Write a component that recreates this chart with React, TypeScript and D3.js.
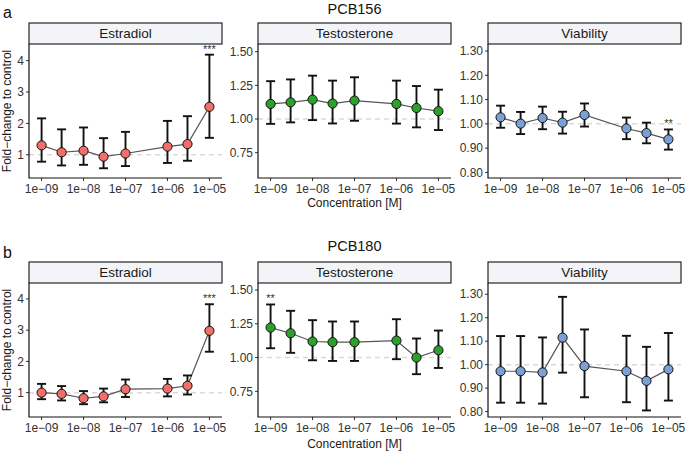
import React from "react";
import { scaleLinear, scaleLog, line } from "d3";

// concentrations tested (M)
const concentrations = [1e-9, 3e-9, 1e-8, 3e-8, 1e-7, 1e-6, 3e-6, 1e-5];
const decadeTicks = [1e-9, 1e-8, 1e-7, 1e-6, 1e-5];
const decadeLabels = ["1e\u221209", "1e\u221208", "1e\u221207", "1e\u221206", "1e\u221205"];

// PCB156
const e2Mean156 = [1.3, 1.08, 1.13, 0.94, 1.04, 1.26, 1.34, 2.53];
const e2Low156 = [0.78, 0.66, 0.68, 0.57, 0.64, 0.74, 0.81, 1.54];
const e2High156 = [2.16, 1.81, 1.87, 1.53, 1.73, 2.08, 2.23, 4.19];
const e2Sig156 = ["", "", "", "", "", "", "", "***"];
const tMean156 = [1.112, 1.124, 1.144, 1.115, 1.137, 1.112, 1.082, 1.058];
const tLow156 = [0.964, 0.975, 0.992, 0.967, 0.987, 0.966, 0.938, 0.918];
const tHigh156 = [1.281, 1.294, 1.322, 1.285, 1.31, 1.285, 1.245, 1.218];
const tSig156 = ["", "", "", "", "", "", "", ""];
const vMean156 = [1.027, 1.001, 1.024, 1.005, 1.037, 0.981, 0.962, 0.936];
const vLow156 = [0.984, 0.958, 0.978, 0.96, 0.989, 0.937, 0.92, 0.894];
const vHigh156 = [1.075, 1.049, 1.071, 1.05, 1.084, 1.026, 1.005, 0.977];
const vSig156 = ["", "", "", "", "", "", "", "**"];

// PCB180
const e2Mean180 = [1.0, 0.96, 0.82, 0.88, 1.11, 1.13, 1.22, 2.98];
const e2Low180 = [0.79, 0.75, 0.63, 0.69, 0.86, 0.88, 0.94, 2.31];
const e2High180 = [1.28, 1.21, 1.05, 1.13, 1.42, 1.44, 1.55, 3.83];
const e2Sig180 = ["", "", "", "", "", "", "", "***"];
const tMean180 = [1.222, 1.18, 1.119, 1.114, 1.114, 1.126, 1.0, 1.054];
const tLow180 = [1.069, 1.035, 0.98, 0.975, 0.975, 0.988, 0.877, 0.923];
const tHigh180 = [1.393, 1.346, 1.277, 1.267, 1.267, 1.284, 1.141, 1.2];
const tSig180 = ["**", "", "", "", "", "", "", ""];
const vMean180 = [0.972, 0.972, 0.967, 1.115, 0.994, 0.972, 0.931, 0.98];
const vLow180 = [0.838, 0.838, 0.834, 0.966, 0.861, 0.84, 0.805, 0.847];
const vHigh180 = [1.122, 1.122, 1.116, 1.289, 1.15, 1.123, 1.076, 1.135];
const vSig180 = ["", "", "", "", "", "", "", ""];

const e2Ticks = [1, 2, 3, 4];
const tTicks = [0.75, 1.0, 1.25, 1.5];
const vTicks = [0.8, 0.9, 1.0, 1.1, 1.2, 1.3];

const FONT = "'Liberation Sans', Arial, Helvetica, sans-serif";
const RED = "#f07067";
const GREEN = "#2ca02c";
const BLUE = "#7c9fd5";

const panelLefts = [29, 258, 488];
const panelWidth = 193;
const stripHeight = 21;
const plotHeight = 134;

type PanelProps = {
  left: number;
  top: number;
  title: string;
  domain: [number, number];
  ticks: number[];
  fmt: (v: number) => string;
  mean: number[];
  low: number[];
  high: number[];
  sig: string[];
  color: string;
};

function Panel({ left, top, title, domain, ticks, fmt, mean, low, high, sig, color }: PanelProps) {
  const bottom = top + plotHeight;
  const x = scaleLog()
    .domain([Math.pow(10, -9.3), Math.pow(10, -4.7)])
    .range([left, left + panelWidth]);
  const y = scaleLinear().domain(domain).range([bottom, top]);
  const path = line<number>()
    .x((_, i) => x(concentrations[i]))
    .y((d) => y(d))(mean);

  return (
    <g fontFamily={FONT}>
      {/* strip */}
      <rect
        x={left}
        y={top - stripHeight}
        width={panelWidth}
        height={stripHeight}
        fill="#f3f4f7"
        stroke="#111"
        strokeWidth="1.1"
      />
      <text
        x={left + panelWidth / 2}
        y={top - stripHeight / 2 + 4.8}
        textAnchor="middle"
        fontSize="13.5"
        fill="#1a1a1a"
      >
        {title}
      </text>

      {/* reference line */}
      <line
        x1={left}
        x2={left + panelWidth}
        y1={y(1)}
        y2={y(1)}
        stroke="#d9d9d9"
        strokeWidth="1.5"
        strokeDasharray="5 4"
      />

      {/* y axis */}
      {ticks.map((t) => (
        <g key={t}>
          <line x1={left - 3} x2={left} y1={y(t)} y2={y(t)} stroke="#333" strokeWidth="1" />
          <text x={left - 5} y={y(t) + 4.2} textAnchor="end" fontSize="12" fill="#333">
            {fmt(t)}
          </text>
        </g>
      ))}
      {/* x axis */}
      {decadeTicks.map((t, i) => (
        <g key={t}>
          <line x1={x(t)} x2={x(t)} y1={bottom} y2={bottom + 3} stroke="#333" strokeWidth="1" />
          <text x={x(t)} y={bottom + 15} textAnchor="middle" fontSize="12" fill="#333">
            {decadeLabels[i]}
          </text>
        </g>
      ))}
      <path
        d={`M${left},${top} V${bottom} H${left + panelWidth}`}
        fill="none"
        stroke="#111"
        strokeWidth="1.2"
      />

      {/* connecting line */}
      <path d={path ?? ""} fill="none" stroke="#555" strokeWidth="1.2" />

      {/* error bars */}
      {concentrations.map((c, i) => {
        const cx = x(c);
        return (
          <g key={c} stroke="#111" strokeWidth="1.9">
            <line x1={cx} x2={cx} y1={y(low[i])} y2={y(high[i])} />
            <line x1={cx - 4.5} x2={cx + 4.5} y1={y(low[i])} y2={y(low[i])} />
            <line x1={cx - 4.5} x2={cx + 4.5} y1={y(high[i])} y2={y(high[i])} />
          </g>
        );
      })}

      {/* points */}
      {concentrations.map((c, i) => (
        <circle key={c} cx={x(c)} cy={y(mean[i])} r="4.6" fill={color} stroke="#111" strokeWidth="1" />
      ))}

      {/* significance */}
      {concentrations.map((c, i) =>
        sig[i] ? (
          <text
            key={c}
            x={x(c)}
            y={y(high[i]) - 2}
            textAnchor="middle"
            fontSize="11"
            fill="#333"
          >
            {sig[i]}
          </text>
        ) : null
      )}
    </g>
  );
}

const fmtInt = (v: number) => String(v);
const fmt2 = (v: number) => v.toFixed(2);

export default function App() {
  const rowA = 44;
  const rowB = 283;
  return (
    <svg
      width="685"
      height="451"
      viewBox="0 0 685 451"
      style={{ position: "absolute", left: 0, top: 0, background: "#fff" }}
    >
      <rect width="685" height="451" fill="#fff" />

      <g fontFamily={FONT} fill="#111">
        <text x="3" y="17.5" fontSize="16">a</text>
        <text x="3" y="258" fontSize="16">b</text>
        <text x={354.5} y="14" textAnchor="middle" fontSize="14.5">PCB156</text>
        <text x={354.5} y="251" textAnchor="middle" fontSize="14.5">PCB180</text>
        <text x={354.5} y="207" textAnchor="middle" fontSize="12" fill="#1a1a1a">Concentration [M]</text>
        <text x={354.5} y="447.5" textAnchor="middle" fontSize="12" fill="#1a1a1a">Concentration [M]</text>
        <text
          transform={`translate(11, ${rowA + plotHeight / 2}) rotate(-90)`}
          textAnchor="middle"
          fontSize="12"
          fill="#1a1a1a"
        >
          Fold{"\u2212"}change to control
        </text>
        <text
          transform={`translate(11, ${rowB + plotHeight / 2}) rotate(-90)`}
          textAnchor="middle"
          fontSize="12"
          fill="#1a1a1a"
        >
          Fold{"\u2212"}change to control
        </text>
      </g>

      <Panel left={panelLefts[0]} top={rowA} title="Estradiol" domain={[0.26, 4.53]} ticks={e2Ticks} fmt={fmtInt}
        mean={e2Mean156} low={e2Low156} high={e2High156} sig={e2Sig156} color={RED} />
      <Panel left={panelLefts[1]} top={rowA} title="Testosterone" domain={[0.562, 1.557]} ticks={tTicks} fmt={fmt2}
        mean={tMean156} low={tLow156} high={tHigh156} sig={tSig156} color={GREEN} />
      <Panel left={panelLefts[2]} top={rowA} title="Viability" domain={[0.777, 1.329]} ticks={vTicks} fmt={fmt2}
        mean={vMean156} low={vLow156} high={vHigh156} sig={vSig156} color={BLUE} />

      <Panel left={panelLefts[0]} top={rowB} title="Estradiol" domain={[0.22, 4.51]} ticks={e2Ticks} fmt={fmtInt}
        mean={e2Mean180} low={e2Low180} high={e2High180} sig={e2Sig180} color={RED} />
      <Panel left={panelLefts[1]} top={rowB} title="Testosterone" domain={[0.56, 1.552]} ticks={tTicks} fmt={fmt2}
        mean={tMean180} low={tLow180} high={tHigh180} sig={tSig180} color={GREEN} />
      <Panel left={panelLefts[2]} top={rowB} title="Viability" domain={[0.777, 1.348]} ticks={vTicks} fmt={fmt2}
        mean={vMean180} low={vLow180} high={vHigh180} sig={vSig180} color={BLUE} />
    </svg>
  );
}
